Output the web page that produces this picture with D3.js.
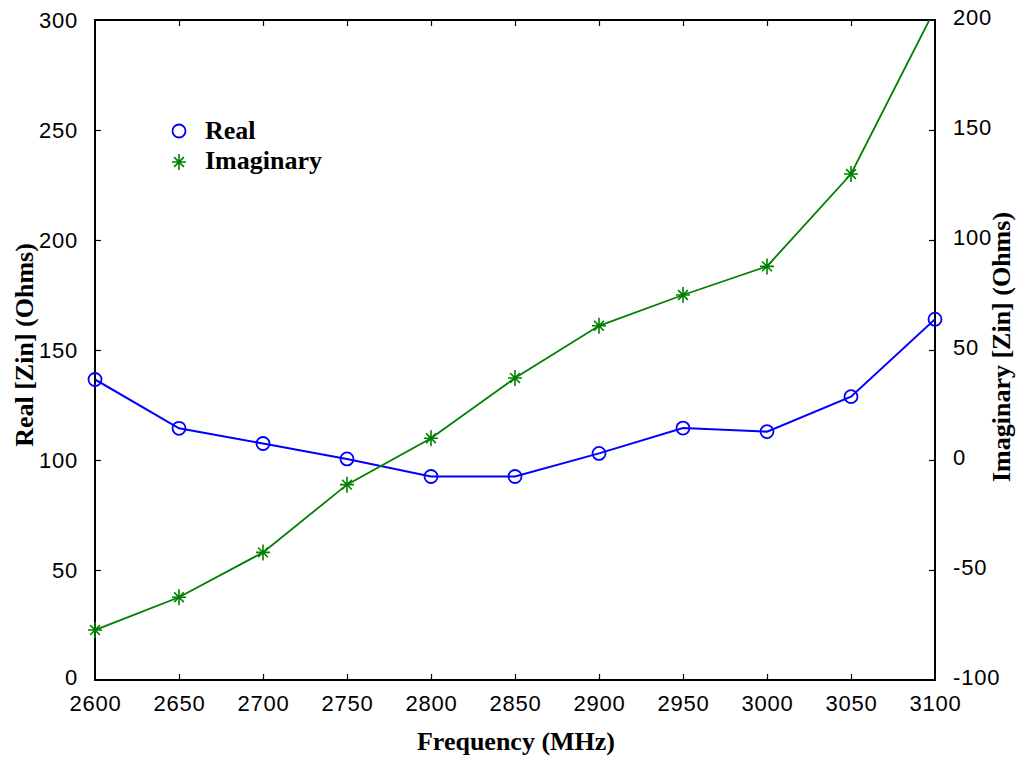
<!DOCTYPE html>
<html>
<head>
<meta charset="utf-8">
<script src="https://cdn.jsdelivr.net/npm/d3@7"></script>
<style>
  html, body { margin: 0; padding: 0; background: #fff; }
  svg { display: block; }
</style>
</head>
<body>
<svg id="chart" width="1017" height="759"></svg>
<script>
const frequency = [2600, 2650, 2700, 2750, 2800, 2850, 2900, 2950, 3000, 3050, 3100];
const realZin   = [136.6, 114.4, 107.5, 100.5, 92.5, 92.5, 103.0, 114.5, 112.9, 128.8, 164.0];
const imagZin   = [-77.3, -62.4, -42.0, -11.2, 9.9, 37.3, 61.0, 75.0, 88.0, 130.0, 205.0];
const xTicks    = [2600, 2650, 2700, 2750, 2800, 2850, 2900, 2950, 3000, 3050, 3100];
const yLeftTicks  = [0, 50, 100, 150, 200, 250, 300];
const yRightTicks = [-100, -50, 0, 50, 100, 150, 200];
const seriesNames = ["Real", "Imaginary"];
const seriesColors = ["#0000ff", "#008000"];

const W = 1017, H = 759;
const m = {left: 95, right: 82, top: 20, bottom: 79};
const pw = W - m.left - m.right, ph = H - m.top - m.bottom;

const svg = d3.select("#chart");
const g = svg.append("g").attr("transform", `translate(${m.left},${m.top})`);

const x = d3.scaleLinear().domain([2600, 3100]).range([0, pw]);
const yL = d3.scaleLinear().domain([0, 300]).range([ph, 0]);
const yR = d3.scaleLinear().domain([-100, 200]).range([ph, 0]);

svg.append("defs").append("clipPath").attr("id", "plotclip")
  .append("rect").attr("x", 0).attr("y", 0).attr("width", pw).attr("height", ph);

const tickFont = "'Liberation Sans', Arial, sans-serif";
const titleFont = "'Liberation Serif', 'Times New Roman', serif";
const fmt = d => String(d);

function styleAxis(sel) {
  sel.select(".domain").remove();
  sel.selectAll(".tick line").attr("stroke", "#000").attr("stroke-width", 1.2);
  sel.selectAll(".tick text").attr("font-family", tickFont).attr("font-size", 22)
    .attr("letter-spacing", "0.8px").attr("fill", "#000");
}

// bottom axis (ticks inward)
const xb = g.append("g").attr("transform", `translate(0,${ph})`)
  .call(d3.axisBottom(x).tickValues(xTicks).tickFormat(fmt).tickSizeInner(-6).tickSizeOuter(0).tickPadding(15));
styleAxis(xb);
xb.selectAll(".tick line").filter(d => d === 2600 || d === 3100).remove();
// top axis ticks only
const xt = g.append("g")
  .call(d3.axisTop(x).tickValues(xTicks).tickFormat("").tickSizeInner(-6).tickSizeOuter(0));
styleAxis(xt);
xt.selectAll(".tick line").filter(d => d === 2600 || d === 3100).remove();

// left axis
const yl = g.append("g")
  .call(d3.axisLeft(yL).tickValues(yLeftTicks).tickFormat(fmt).tickSizeInner(-6).tickSizeOuter(0).tickPadding(17));
styleAxis(yl);
yl.selectAll(".tick text").filter(d => d === 0).attr("dy", "0.2em");
yl.selectAll(".tick line").filter(d => d === 0 || d === 300).remove();

// right axis
const yr = g.append("g").attr("transform", `translate(${pw},0)`)
  .call(d3.axisRight(yR).tickValues(yRightTicks).tickFormat(fmt).tickSizeInner(-6).tickSizeOuter(0).tickPadding(18));
styleAxis(yr);
yr.selectAll(".tick text").attr("dy", "0.2em");
yr.selectAll(".tick line").filter(d => d === -100 || d === 200).remove();

// frame
g.append("rect").attr("x", 0).attr("y", 0).attr("width", pw).attr("height", ph)
  .attr("fill", "none").attr("stroke", "#000").attr("stroke-width", 2);

// data
const realData = frequency.map((f, i) => ({f, v: realZin[i]}));
const imagData = frequency.map((f, i) => ({f, v: imagZin[i]}));

g.append("path").datum(realData)
  .attr("clip-path", "url(#plotclip)")
  .attr("fill", "none").attr("stroke", seriesColors[0]).attr("stroke-width", 2)
  .attr("d", d3.line().x(d => x(d.f)).y(d => yL(d.v)));

g.append("path").datum(imagData)
  .attr("clip-path", "url(#plotclip)")
  .attr("fill", "none").attr("stroke", seriesColors[1]).attr("stroke-width", 1.8)
  .attr("d", d3.line().x(d => x(d.f)).y(d => yR(d.v)));

const starPath = (s) => {
  const a = s, b = s * 0.7;
  return `M0,${-a - 1}L0,${a + 1}M${-a},0L${a},0M${-b},${-b}L${b},${b}M${-b},${b}L${b},${-b}`;
};

g.selectAll("circle.real").data(realData.filter(d => d.v >= 0 && d.v <= 300)).enter()
  .append("circle").attr("class", "real")
  .attr("cx", d => x(d.f)).attr("cy", d => yL(d.v)).attr("r", 6.5)
  .attr("fill", "none").attr("stroke", seriesColors[0]).attr("stroke-width", 1.8);

g.selectAll("path.imag").data(imagData.filter(d => d.v >= -100 && d.v <= 200)).enter()
  .append("path").attr("class", "imag")
  .attr("transform", d => `translate(${x(d.f)},${yR(d.v)})`)
  .attr("d", starPath(7)).attr("fill", "none")
  .attr("stroke", seriesColors[1]).attr("stroke-width", 1.6);

// legend
const lg = svg.append("g");
lg.append("circle").attr("cx", 179).attr("cy", 131).attr("r", 6.5)
  .attr("fill", "none").attr("stroke", seriesColors[0]).attr("stroke-width", 1.8);
lg.append("path").attr("transform", "translate(179,162)").attr("d", starPath(7))
  .attr("fill", "none").attr("stroke", seriesColors[1]).attr("stroke-width", 1.6);
lg.append("text").attr("x", 205).attr("y", 139).text(seriesNames[0])
  .attr("font-family", titleFont).attr("font-weight", "bold").attr("font-size", 26).attr("fill", "#000");
lg.append("text").attr("x", 205).attr("y", 169).text(seriesNames[1])
  .attr("font-family", titleFont).attr("font-weight", "bold").attr("font-size", 26).attr("fill", "#000");

// axis titles
svg.append("text").attr("x", 516).attr("y", 750).attr("text-anchor", "middle")
  .attr("font-family", titleFont).attr("font-weight", "bold").attr("font-size", 26).text("Frequency (MHz)");
svg.append("text").attr("transform", `translate(33,345) rotate(-90)`).attr("text-anchor", "middle")
  .attr("font-family", titleFont).attr("font-weight", "bold").attr("font-size", 26).text("Real [Zin] (Ohms)");
svg.append("text").attr("transform", `translate(1010,347) rotate(-90)`).attr("text-anchor", "middle")
  .attr("font-family", titleFont).attr("font-weight", "bold").attr("font-size", 26).text("Imaginary [Zin] (Ohms)");
</script>
</body>
</html>
